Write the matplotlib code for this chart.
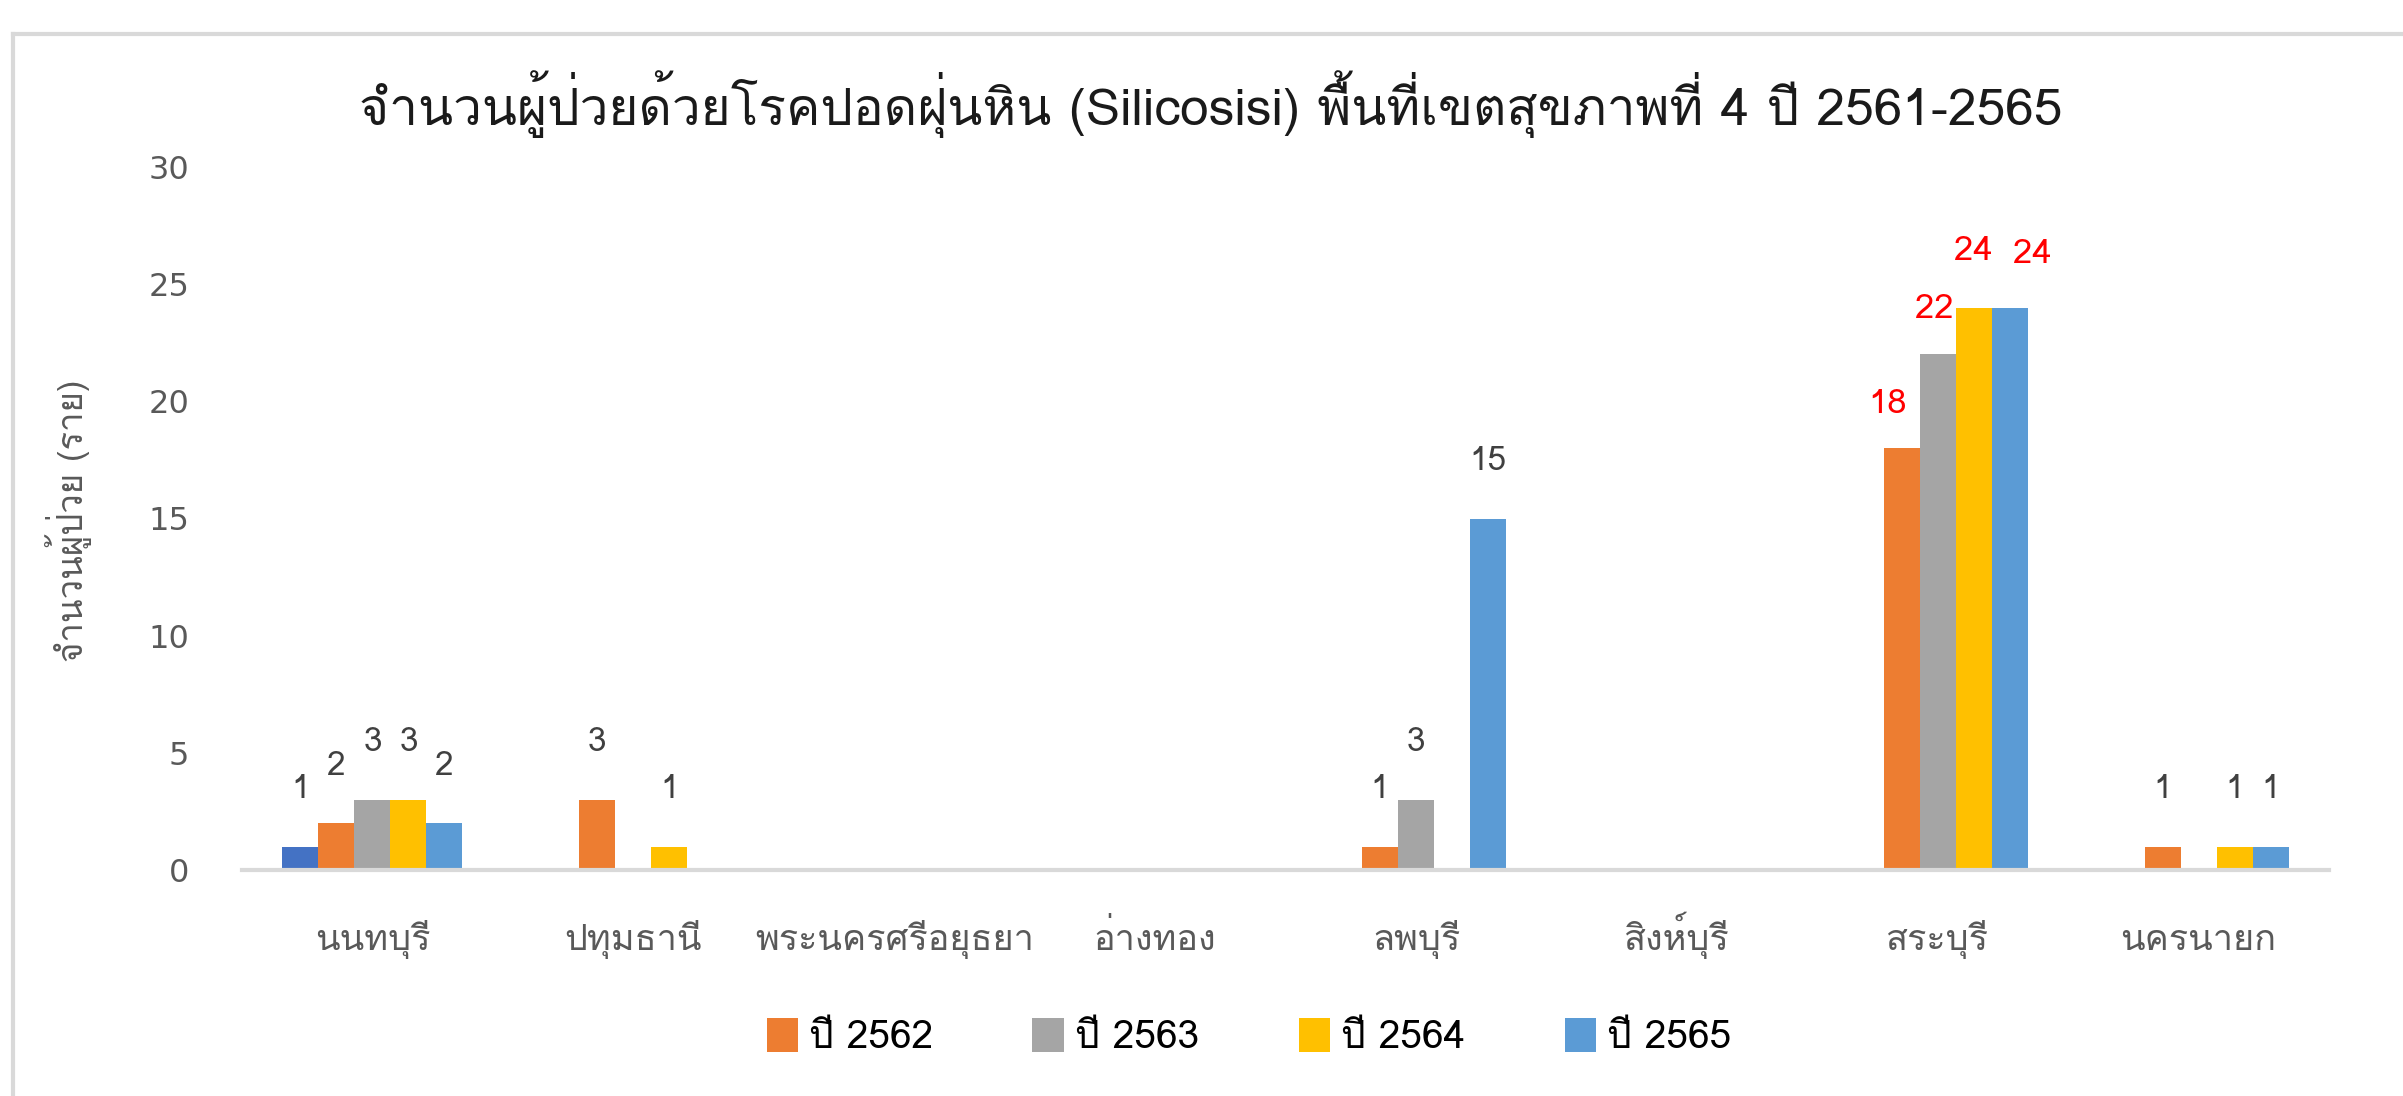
import matplotlib
matplotlib.use("Agg")
import matplotlib.pyplot as plt
import numpy as np
from matplotlib.patches import Patch
from matplotlib.lines import Line2D

categories = ["นนทบุรี", "ปทุมธานี", "พระนครศรีอยุธยา", "อ่างทอง",
              "ลพบุรี", "สิงห์บุรี", "สระบุรี", "นครนายก"]
series_names = ["ปี 2561", "ปี 2562", "ปี 2563", "ปี 2564", "ปี 2565"]
y2561 = [1, 0, 0, 0, 0, 0, 0, 0]
y2562 = [2, 3, 0, 0, 1, 0, 18, 1]
y2563 = [3, 0, 0, 0, 3, 0, 22, 0]
y2564 = [3, 1, 0, 0, 0, 0, 24, 1]
y2565 = [2, 0, 0, 0, 15, 0, 24, 1]
series = [y2561, y2562, y2563, y2564, y2565]
colors = ["#4472C4", "#ED7D31", "#A5A5A5", "#FFC000", "#5B9BD5"]
title = "จำนวนผู้ป่วยด้วยโรคปอดฝุ่นหิน (Silicosisi) พื้นที่เขตสุขภาพที่ 4 ปี 2561-2565"
ylabel = "จำนวนผู้ป่วย (ราย)"

THAI = ["Loma", "DejaVu Sans"]
plt.rcParams["font.family"] = THAI

W, H, DPI = 2403, 1096, 100
fig = plt.figure(figsize=(W / DPI, H / DPI), dpi=DPI)
fig.patch.set_facecolor("white")

# outer chart frame (top and left edges visible)
fig.add_artist(Line2D([13 / W, 13 / W], [0, 1 - 34 / H], transform=fig.transFigure,
                      color="#D9D9D9", lw=3))
fig.add_artist(Line2D([13 / W, 1], [1 - 34 / H, 1 - 34 / H], transform=fig.transFigure,
                      color="#D9D9D9", lw=3))

ax = fig.add_axes([242 / W, 1 - 870 / H, (2329 - 242) / W, (870 - 167) / H])
x = np.arange(len(categories))
bw = 0.138
for k, vals in enumerate(series):
    pos = x + (k - 2) * bw
    ax.bar(pos, vals, width=bw, color=colors[k], zorder=2)


def pt(px):
    return px * 72 / DPI


special = {(6, 1): (-14, 44), (6, 2): (-3, 45), (6, 3): (0, 56), (6, 4): (23, 53)}
for k, vals in enumerate(series):
    for i, v in enumerate(vals):
        if v == 0:
            continue
        dx, dy = special.get((i, k), (0, 57))
        red = i == 6
        ax.annotate(str(v), (x[i] + (k - 2) * bw, v), xytext=(pt(dx), pt(dy)),
                    textcoords="offset points", ha="center", va="center",
                    fontsize=25 if red else 24,
                    color="#FF0000" if red else "#404040")

ax.set_xlim(-0.5, len(categories) - 0.5)
ax.set_ylim(0, 30)
ax.set_yticks(range(0, 31, 5))
ax.set_yticklabels([str(v) for v in range(0, 31, 5)], family="DejaVu Sans")
ax.set_xticks(x)
ax.set_xticklabels(categories, fontsize=26, color="#595959", va="baseline")
ax.tick_params(axis="y", labelsize=23, labelcolor="#595959", length=0, pad=38)
ax.tick_params(axis="x", length=0, pad=pt(80))
for s in ["top", "right", "left"]:
    ax.spines[s].set_visible(False)
ax.spines["bottom"].set_color("#D9D9D9")
ax.spines["bottom"].set_linewidth(3)

fig.text(69 / W, 1 - 521 / H, ylabel, rotation=90, ha="center", va="center",
         fontsize=25, color="#595959")
fig.text(1211 / W, 1 - 104 / H, title, ha="center", va="center", fontsize=37,
         color="#1a1a1a")

handles = [Patch(facecolor=colors[k]) for k in range(1, 5)]
fig.legend(handles, series_names[1:], loc="center", bbox_to_anchor=(1249 / W, 1 - 1037 / H),
           ncol=4, frameon=False, fontsize=28, handlelength=0.8, handleheight=1.0,
           handletextpad=0.3, columnspacing=2.55)

fig.savefig("out.png", dpi=DPI)
